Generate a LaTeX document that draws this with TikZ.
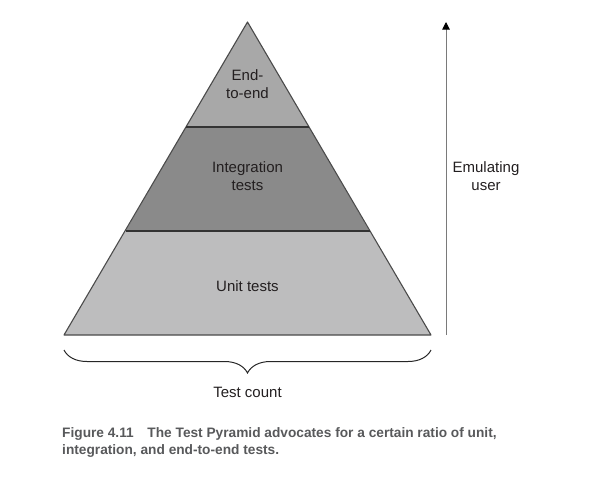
\documentclass[tikz,border=0pt]{standalone}
\usepackage{fontspec}
\setmainfont{Liberation Sans}
\usetikzlibrary{arrows.meta,positioning,decorations.pathreplacing}
\usepackage{xcolor}
\definecolor{tier_top}{HTML}{A8A8A8}
\definecolor{tier_mid}{HTML}{8A8A8A}
\definecolor{tier_low}{HTML}{BDBDBE}
\definecolor{edge_gray}{HTML}{4A4A4A}
\definecolor{shaft_gray}{HTML}{7A7A7A}
\definecolor{caption_gray}{HTML}{58595B}
\definecolor{label_ink}{HTML}{231F20}

\begin{document}
\begin{tikzpicture}[x=1pt, y=-1pt, every node/.style={
    inner sep=0pt,
    align=center,
    text=label_ink,
    font=\fontsize{15}{18}\selectfont
}]
    \useasboundingbox (0,0) rectangle (612,496);
    % pyramid corners and cuts
    \coordinate (apex) at (247.5,22);
    \coordinate (base_left) at (64,335);
    \coordinate (base_right) at (431,335);
    \coordinate (e2e_left) at (186,127);
    \coordinate (e2e_right) at (309,127);
    \coordinate (int_left) at (125.5,231);
    \coordinate (int_right) at (369.5,231);
    \fill[tier_top] (apex) -- (e2e_right) -- (e2e_left) -- cycle;
    \fill[tier_mid] (e2e_left) -- (e2e_right) -- (int_right) -- (int_left) -- cycle;
    \fill[tier_low] (int_left) -- (int_right) -- (base_right) -- (base_left) -- cycle;
    \draw[edge_gray, line width=1.1pt, line join=round] (apex) -- (base_right) -- (base_left) -- cycle;
    \draw[black!80, line width=1.1pt] (e2e_left) -- (e2e_right);
    \draw[black!80, line width=1.1pt] (int_left) -- (int_right);
    \node (end_to_end) at (247.5,84) {End-\\to-end};
    \node (integration_tests) at (247.5,176) {Integration\\tests};
    \node (unit_tests) at (247.5,286) {Unit tests};
    % emulating user axis
    \coordinate (user_low) at (446,335);
    \coordinate (user_high) at (446,22);
    \draw[-{Triangle[length=7.5pt,width=7.5pt,color=black]}, shaft_gray, line width=1pt] (user_low) -- (user_high);
    \node (emulating_user) at (486,176.5) {Emulating\\user};
    % test count brace
    \coordinate (brace_left) at (64,350);
    \coordinate (brace_right) at (431,350);
    \draw[decorate, decoration={brace, mirror, amplitude=23pt}, black!85, line width=1pt] (brace_left) -- (brace_right);
    \node (test_count) at (247.5,392) {Test count};
    % caption
    \node (caption) [anchor=base west, align=left, text=caption_gray,
        font=\bfseries\fontsize{13.7}{17}\selectfont] at (62,454)
    {
        Figure 4.11\quad The Test Pyramid advocates for a certain ratio of unit,\\
        integration, and end-to-end tests.
    };
\end{tikzpicture}
\end{document}
